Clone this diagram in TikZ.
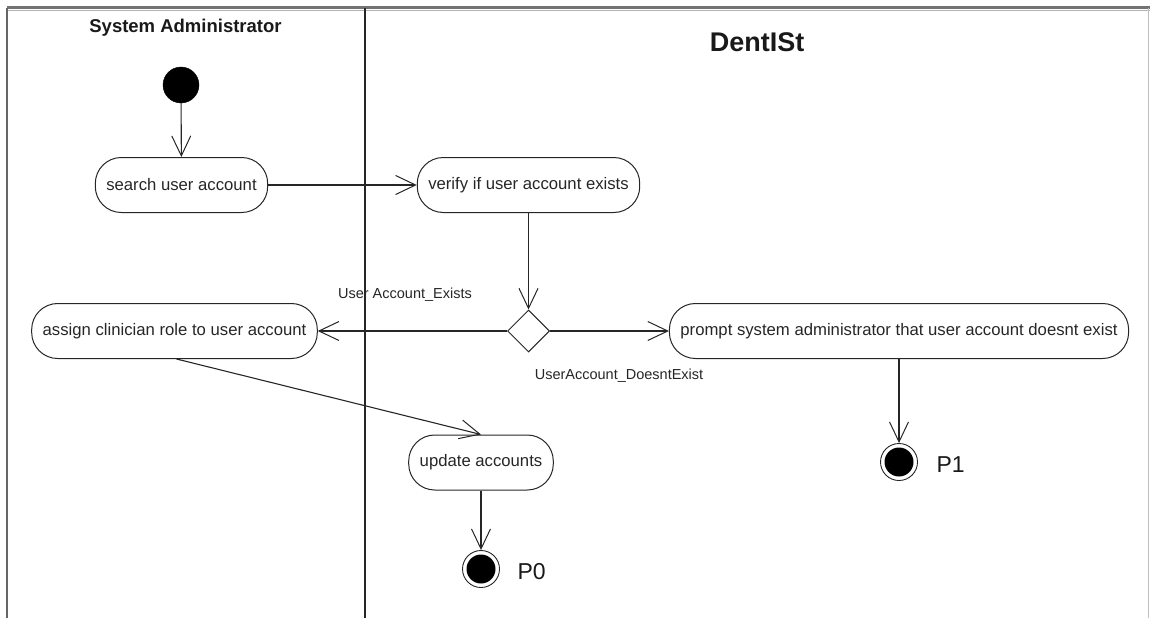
\documentclass[tikz,border=0pt]{standalone}
\usepackage{fontspec}
\setmainfont{Liberation Sans}
\usetikzlibrary{shapes.geometric,arrows.meta}
\begin{document}
\begin{tikzpicture}[x=1pt,y=-1pt,
  ink/.style={black!85},
  action/.style={draw=black!85, line width=1pt, rectangle, rounded corners=26pt,
    minimum height=55pt, inner xsep=11pt, text=black!85,
    font=\fontsize{16.7}{19}\selectfont},
  flow/.style={draw=black!85, line width=1.1pt,
    -{Straight Barb[length=20pt,width=19pt,line width=1pt]}},
  guard/.style={text=black!85, font=\fontsize{14.5}{16}\selectfont},
  lanetitle/.style={text=black!90, font=\bfseries\fontsize{18.5}{21}\selectfont},
  startnode/.style={circle, fill=black, draw=black, minimum size=36pt, inner sep=0pt},
  endnode/.style={circle, draw=black!85, line width=0.9pt, minimum size=37pt, inner sep=0pt,
    path picture={\fill[black] (path picture bounding box.center) circle (14.5pt);}},
  decision/.style={diamond, draw=black!85, line width=1pt, fill=white,
    minimum width=42pt, minimum height=42pt, inner sep=0pt},
  endlabel/.style={text=black!90, font=\fontsize{23}{26}\selectfont}
]
\useasboundingbox (0,0) rectangle (1150,618);

% swimlane frame
\draw[black!55, line width=3pt] (7,8) -- (1150,8);
\draw[black!30, line width=1pt] (7,10.5) -- (1150,10.5);
\draw[black!60, line width=2pt] (7,8) -- (7,618);
\draw[black!25, line width=1pt] (1148.5,8) -- (1148.5,618);
\draw[black!85, line width=2pt] (364.5,8) -- (364.5,618);

% lane titles
\node[lanetitle] (lane1) at (185.5,28) {System Administrator};
\node[lanetitle, font=\bfseries\fontsize{27}{30}\selectfont] (lane2) at (757,42) {DentISt};

% activities
\node[startnode] (start) at (181,85) {};
\node[action] (search) at (181.5,185) {search user account};
\node[action] (verify) at (528.5,185) {verify if user account exists};
\node[decision] (dec) at (528.5,331) {};
\node[action] (assign) at (174.5,331) {assign clinician role to user account};
\node[action] (prompt) at (899,331) {prompt system administrator that user account doesnt exist};
\node[action] (update) at (481,462.5) {update accounts};
\node[endnode] (end0) at (481,569) {};
\node[endnode] (end1) at (899,462) {};

% labels
\node[endlabel, anchor=west] (p0) at (514,572) {P0};
\node[endlabel, anchor=west] (p1) at (933,465) {P1};
\node[guard] (gexists) at (405,295) {User Account\_Exists};
\node[guard] (gnot) at (619,376) {UserAccount\_DoesntExist};

% transitions
\draw[flow] (start) -- (search);
\draw[flow] (search) -- (verify);
\draw[flow] (verify) -- (dec);
\draw[flow] (dec) -- (assign);
\draw[flow] (dec) -- (prompt);
\draw[flow] ([xshift=2pt]assign.south) -- (update.north);
\draw[flow] (update) -- (end0);
\draw[flow] (prompt) -- (end1);
\end{tikzpicture}
\end{document}
